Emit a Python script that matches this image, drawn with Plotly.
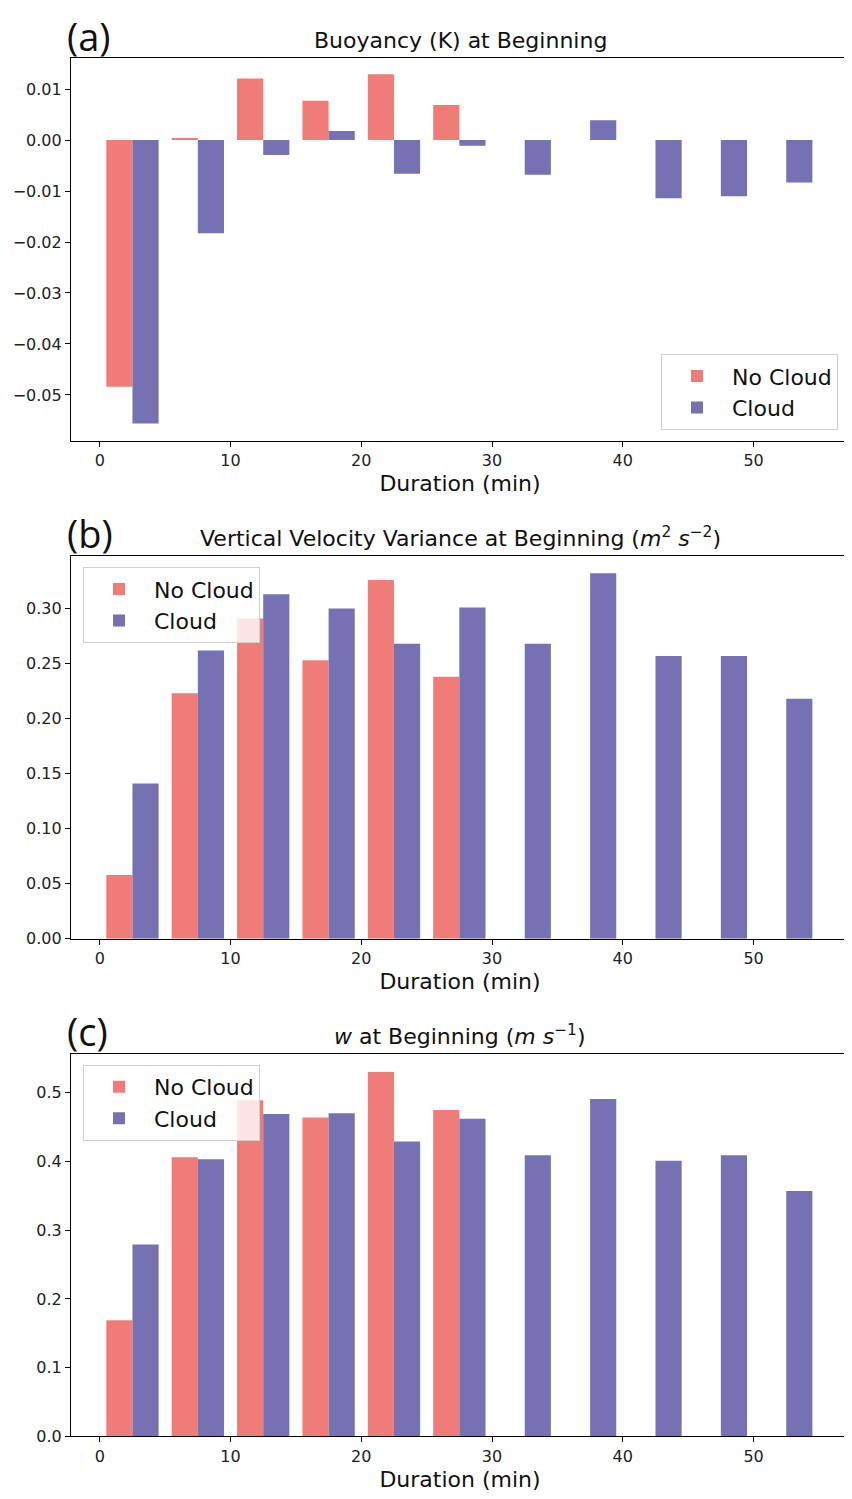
import plotly.graph_objects as go

# ---- data ----
bin_start = [0, 5, 10, 15, 20, 25, 30, 35, 40, 45, 50]

buoy_nocloud = [-0.0484, 0.0004, 0.0121, 0.0077, 0.0129, 0.0069]
buoy_cloud = [-0.0556, -0.0183, -0.0029, 0.0018, -0.0066, -0.0011,
              -0.0068, 0.0039, -0.0114, -0.0110, -0.0083]

wvar_nocloud = [0.058, 0.223, 0.291, 0.253, 0.326, 0.238]
wvar_cloud = [0.141, 0.262, 0.313, 0.300, 0.268, 0.301,
              0.268, 0.332, 0.257, 0.257, 0.218]

w_nocloud = [0.169, 0.406, 0.489, 0.464, 0.530, 0.475]
w_cloud = [0.279, 0.403, 0.469, 0.470, 0.429, 0.462,
           0.409, 0.491, 0.401, 0.409, 0.357]

titles = [
    "Buoyancy (K) at Beginning",
    "Vertical Velocity Variance at Beginning (<i>m</i><sup>2</sup> <i>s</i><sup>\u22122</sup>)",
    "<i>w</i> at Beginning (<i>m</i> <i>s</i><sup>\u22121</sup>)",
]
panel_labels = ["(a)", "(b)", "(c)"]
xlabel = "Duration (min)"

RED = "#f07c7a"
BLUE = "#7571b3"
FONT = "DejaVu Sans"

# page body has an 8px margin: the figure starts at (8, 8) in the window
OFF = 8
W, H = 852 - OFF, 1499 - OFF

def px(p):
    return (p - OFF) / W

def py(p):
    return 1 - (p - OFF) / H

x0px, x1px = 71, 849
panels_px = [(58, 444), (560, 945), (1061, 1446)]
label_centers = [36, 537, 1038]
yranges = [[-0.05906, 0.01618], [0, 0.3475], [0, 0.5564]]
dticks = [0.01, 0.05, 0.1]
tfmts = [".2f", ".2f", ".1f"]

fig = go.Figure()

series = [(buoy_nocloud, buoy_cloud), (wvar_nocloud, wvar_cloud), (w_nocloud, w_cloud)]
legend_ids = ["legend", "legend2", "legend3"]

for i, (nc, c) in enumerate(series):
    ax = "" if i == 0 else str(i + 1)
    fig.add_trace(go.Bar(
        x=[b + 1.5 for b in bin_start[:len(nc)]], y=nc, width=2,
        marker=dict(color=RED, line=dict(width=0)), name="No Cloud",
        xaxis="x" + ax, yaxis="y" + ax, legend=legend_ids[i]))
    fig.add_trace(go.Bar(
        x=[b + 3.5 for b in bin_start[:len(c)]], y=c, width=2,
        marker=dict(color=BLUE, line=dict(width=0)), name="Cloud",
        xaxis="x" + ax, yaxis="y" + ax, legend=legend_ids[i]))

annotations = []
for i in range(3):
    top, bot = panels_px[i]
    ax = "" if i == 0 else str(i + 1)
    common = dict(showline=True, linecolor="black", linewidth=1.2, mirror=True,
                  ticks="outside", ticklen=5, tickcolor="black", tickwidth=1.2,
                  showgrid=False, zeroline=False,
                  tickfont=dict(family=FONT, size=16, color="#222"))
    fig.layout["xaxis" + ax] = dict(
        domain=[px(x0px), px(x1px)], anchor="y" + ax, range=[-2.2, 57.3],
        tickmode="array", tickvals=[0, 10, 20, 30, 40, 50],
        title=dict(text=xlabel, font=dict(family=FONT, size=22, color="#111"), standoff=6),
        **common)
    fig.layout["yaxis" + ax] = dict(
        domain=[py(bot), py(top)], anchor="x" + ax, range=yranges[i],
        dtick=dticks[i], tick0=0, tickformat=tfmts[i], **common)
    annotations.append(dict(
        text=titles[i], x=(px(x0px) + px(x1px)) / 2, y=py(top), xref="paper", yref="paper",
        xanchor="center", yanchor="bottom", yshift=3, showarrow=False,
        font=dict(family=FONT, size=22, color="#111")))
    annotations.append(dict(
        text=panel_labels[i], x=px(65), y=py(label_centers[i]), xref="paper", yref="paper",
        xanchor="left", yanchor="middle", showarrow=False,
        font=dict(family="Open Sans", size=38, color="#111")))

legfont = dict(family=FONT, size=22, color="#111")
legbase = dict(bgcolor="rgba(255,255,255,0.8)", bordercolor="#d0d0d0", borderwidth=1,
               font=legfont, xref="paper", yref="paper", tracegroupgap=0, itemwidth=60)
fig.update_layout(
    width=W, height=H, margin=dict(l=0, r=0, t=0, b=0),
    paper_bgcolor="white", plot_bgcolor="white",
    barmode="overlay", showlegend=True,
    annotations=annotations,
    legend=dict(x=px(838), y=py(433), xanchor="right", yanchor="bottom", **legbase),
    legend2=dict(x=px(83), y=py(571), xanchor="left", yanchor="top", **legbase),
    legend3=dict(x=px(83), y=py(1072), xanchor="left", yanchor="top", **legbase),
)

fig.write_html("out.html")
